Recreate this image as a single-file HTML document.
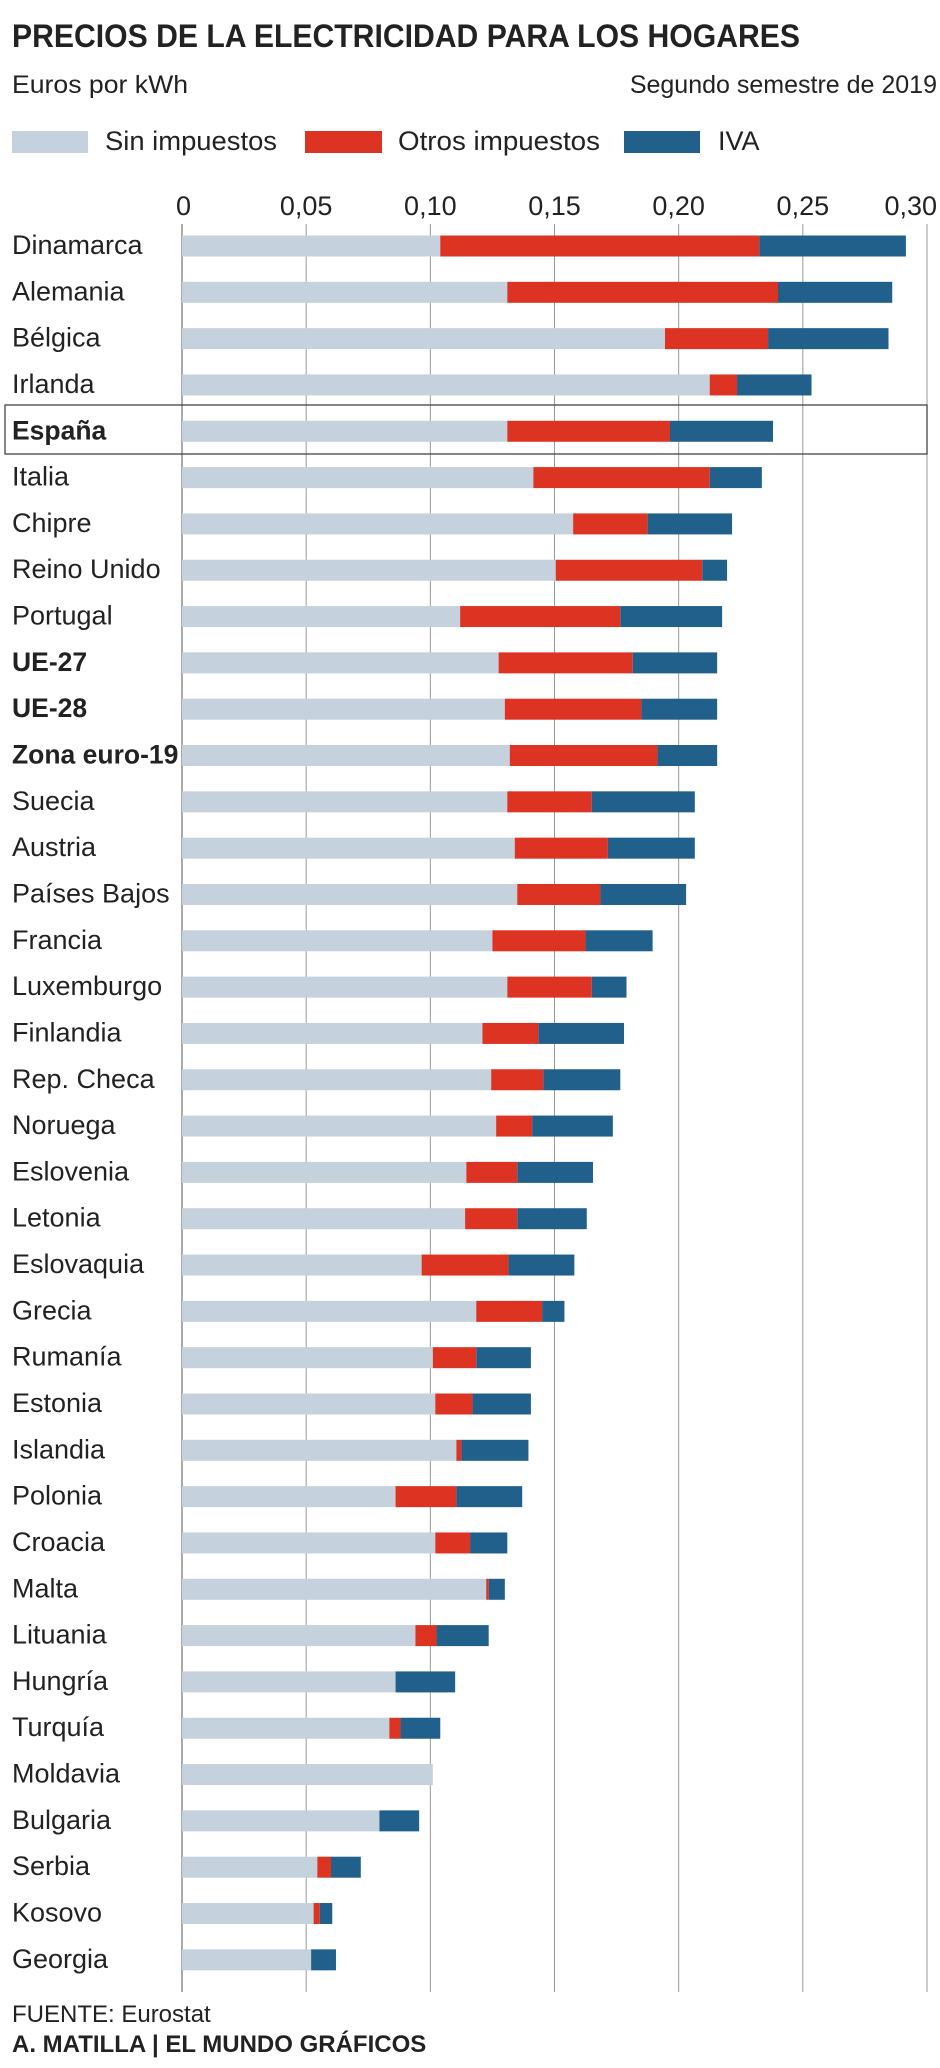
<!DOCTYPE html>
<html><head><meta charset="utf-8">
<style>
html,body{margin:0;padding:0;background:#fff;}
svg{display:block;}
text{font-family:"Liberation Sans",sans-serif;fill:#222;}
</style></head>
<body>
<svg id="chart" width="940" height="2068" viewBox="0 0 940 2068">
<text x="12" y="47" font-size="32" font-weight="bold" textLength="788" lengthAdjust="spacingAndGlyphs">PRECIOS DE LA ELECTRICIDAD PARA LOS HOGARES</text>
<text x="12" y="93" font-size="25" textLength="176" lengthAdjust="spacingAndGlyphs">Euros por kWh</text>
<text x="937" y="93" font-size="25" text-anchor="end">Segundo semestre de 2019</text>
<g>
<rect x="12" y="131" width="76" height="22" fill="#c5d1dc"/>
<text x="105" y="150" font-size="27" textLength="172" lengthAdjust="spacingAndGlyphs">Sin impuestos</text>
<rect x="305" y="131" width="77" height="22" fill="#dd3323"/>
<text x="398" y="150" font-size="27" textLength="202" lengthAdjust="spacingAndGlyphs">Otros impuestos</text>
<rect x="624" y="131" width="76" height="22" fill="#21608a"/>
<text x="718" y="150" font-size="27">IVA</text>
</g>
<g id="grid"></g>
<g id="bars"></g>
<g id="labels"></g>
<rect x="5" y="405" width="922" height="49" fill="none" stroke="#444" stroke-width="1.3"/>
<text x="12" y="2022" font-size="24">FUENTE: Eurostat</text>
<text x="12" y="2052" font-size="24" font-weight="bold">A. MATILLA | EL MUNDO GRÁFICOS</text>
</svg>
<script>
const countries = ["Dinamarca","Alemania","Bélgica","Irlanda","España","Italia","Chipre","Reino Unido","Portugal","UE-27","UE-28","Zona euro-19","Suecia","Austria","Países Bajos","Francia","Luxemburgo","Finlandia","Rep. Checa","Noruega","Eslovenia","Letonia","Eslovaquia","Grecia","Rumanía","Estonia","Islandia","Polonia","Croacia","Malta","Lituania","Hungría","Turquía","Moldavia","Bulgaria","Serbia","Kosovo","Georgia"];
const boldCountries = ["España","UE-27","UE-28","Zona euro-19"];
const sinImpuestos = [0.1040,0.1310,0.1945,0.2125,0.1310,0.1415,0.1575,0.1505,0.1120,0.1275,0.1300,0.1320,0.1310,0.1340,0.1350,0.1250,0.1310,0.1210,0.1245,0.1265,0.1145,0.1140,0.0965,0.1185,0.1010,0.1020,0.1105,0.0860,0.1020,0.1225,0.0940,0.0860,0.0835,0.1010,0.0795,0.0545,0.0530,0.0520];
const otrosImpuestos = [0.1285,0.1090,0.0415,0.0110,0.0655,0.0710,0.0300,0.0590,0.0645,0.0540,0.0550,0.0595,0.0340,0.0375,0.0335,0.0375,0.0340,0.0225,0.0210,0.0145,0.0205,0.0210,0.0350,0.0265,0.0175,0.0150,0.0020,0.0245,0.0140,0.0010,0.0085,0.0000,0.0045,0.0000,0.0000,0.0055,0.0025,0.0000];
const iva = [0.0590,0.0460,0.0485,0.0300,0.0415,0.0210,0.0340,0.0100,0.0410,0.0340,0.0305,0.0240,0.0415,0.0350,0.0345,0.0270,0.0140,0.0345,0.0310,0.0325,0.0305,0.0280,0.0265,0.0090,0.0220,0.0235,0.0270,0.0265,0.0150,0.0065,0.0210,0.0240,0.0160,0.0000,0.0160,0.0120,0.0050,0.0100];
const ticks = [0,0.05,0.10,0.15,0.20,0.25,0.30];
const tickLabels = ["0","0,05","0,10","0,15","0,20","0,25","0,30"];

const NS="http://www.w3.org/2000/svg";
const x0=182, x1=927, vmax=0.30;
const xs=v=>x0+(x1-x0)*v/vmax;
const rowY=i=>246+i*46.32;
const barH=21;
const grid=document.getElementById('grid'), bars=document.getElementById('bars'), labels=document.getElementById('labels');
function mk(tag,attrs){const e=document.createElementNS(NS,tag);for(const k in attrs)e.setAttribute(k,attrs[k]);return e;}
ticks.forEach((t,i)=>{
  const l=mk('line',{x1:xs(t),x2:xs(t),y1:224,y2:1992,stroke:i===0?'#555':'#999','stroke-width':1});
  
  
  grid.appendChild(l);
  const tx=mk('text',{x:xs(t),y:215,'font-size':27,'text-anchor':i===0?'start':(i===ticks.length-1?'end':'middle')});
  if(i===0)tx.setAttribute('x',xs(t)-6);
  if(i===ticks.length-1)tx.setAttribute('x',937);
  tx.textContent=tickLabels[i];
  
  
  labels.appendChild(tx);
});
countries.forEach((c,i)=>{
  const cy=rowY(i), y=cy-barH/2;
  const a=sinImpuestos[i], b=otrosImpuestos[i], d=iva[i];
  const segs=[[0,a,'#c5d1dc','sin-impuestos'],[a,a+b,'#dd3323','otros-impuestos'],[a+b,a+b+d,'#21608a','iva']];
  segs.forEach(s=>{
    if(s[1]<=s[0])return;
    const r=mk('rect',{x:xs(s[0]),y:y,width:xs(s[1])-xs(s[0]),height:barH,fill:s[2]});
    
    
    bars.appendChild(r);
  });
  const bold=boldCountries.includes(c);
  const t=mk('text',{x:12,y:cy+8,'font-size':bold?26.5:27,'font-weight':bold?'bold':'normal'});
  t.textContent=c;
  
  
  labels.appendChild(t);
});
</script>
</body></html>
